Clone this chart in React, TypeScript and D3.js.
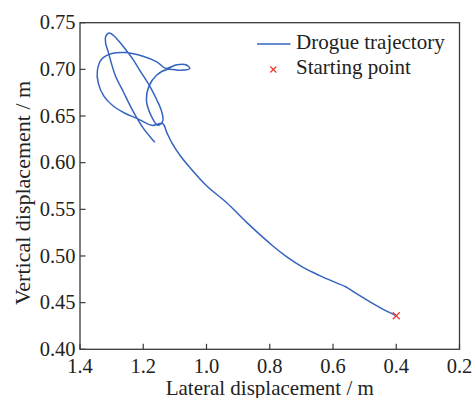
import React from "react";
import * as d3 from "d3";

const xTicks = [1.4, 1.2, 1.0, 0.8, 0.6, 0.4, 0.2];
const yTicks = [0.4, 0.45, 0.5, 0.55, 0.6, 0.65, 0.7, 0.75];

// Trajectory, in time order, starting at the starting point
const trajX = [
  0.4, 0.443, 0.484, 0.532, 0.56, 0.595, 0.642, 0.696, 0.746, 0.791, 0.873, 0.936, 0.999, 1.053, 1.084, 1.109, 1.125, 1.139,
  1.173, 1.217, 1.258, 1.296, 1.324, 1.342, 1.345, 1.331, 1.299, 1.255, 1.201, 1.157, 1.128,
  1.094, 1.065, 1.053, 1.081, 1.122,
  1.157, 1.182, 1.19, 1.176, 1.154, 1.138, 1.143, 1.158, 1.176,
  1.211, 1.233, 1.253, 1.274, 1.293, 1.308, 1.319, 1.319, 1.311, 1.289, 1.263, 1.232, 1.2, 1.174, 1.163,
];
const trajY = [
  0.436, 0.443, 0.451, 0.461, 0.467, 0.472, 0.479, 0.488, 0.499, 0.511, 0.536, 0.557, 0.575, 0.595, 0.608, 0.621, 0.632, 0.642,
  0.64, 0.647, 0.653, 0.661, 0.671, 0.685, 0.699, 0.711, 0.717, 0.718, 0.714, 0.708, 0.701,
  0.705, 0.705, 0.701, 0.699, 0.7,
  0.694, 0.682, 0.667, 0.651, 0.64, 0.645, 0.656, 0.668, 0.68,
  0.699, 0.711, 0.72, 0.729, 0.736, 0.739, 0.735, 0.728, 0.719, 0.694, 0.676, 0.655, 0.637, 0.626, 0.622,
];
const startX = [0.4];
const startY = [0.436];

const legendLabels = ["Drogue trajectory", "Starting point"];

const W = 474;
const H = 398;
const M = { left: 80, right: 14.5, top: 22.7, bottom: 48.7 };
const FONT = "'Liberation Serif', 'Times New Roman', serif";
const LINE_COLOR = "#3563c0";
const MARK_COLOR = "#ee3b2e";
const AXIS_COLOR = "#3a3a3a";

export default function App() {
  const x = d3.scaleLinear().domain([1.4, 0.2]).range([M.left, W - M.right]);
  const y = d3.scaleLinear().domain([0.4, 0.75]).range([H - M.bottom, M.top]);
  const pts: [number, number][] = trajX.map((v, i) => [v, trajY[i]]);
  const line = d3
    .line<[number, number]>()
    .x((d) => x(d[0]))
    .y((d) => y(d[1]))
    .curve(d3.curveCatmullRom.alpha(0.5));
  const x0 = x(1.4), x1 = x(0.2), y0 = y(0.4), y1 = y(0.75);
  const tick = 5.5;
  const cross = (cx: number, cy: number, r: number, key: string) => (
    <g key={key} stroke={MARK_COLOR} strokeWidth={1.2}>
      <line x1={cx - r} y1={cy - r} x2={cx + r} y2={cy + r} />
      <line x1={cx - r} y1={cy + r} x2={cx + r} y2={cy - r} />
    </g>
  );
  return (
    <svg width={W} height={H} style={{ position: "absolute", left: 0, top: 0, background: "#fff" }} fontFamily={FONT}>
      <rect x={0} y={0} width={W} height={H} fill="#fff" />
      <path d={line(pts) || ""} fill="none" stroke={LINE_COLOR} strokeWidth={1.5} strokeLinejoin="round" />
      {startX.map((v, i) => cross(x(v), y(startY[i]), 3.5, "s" + i))}
      <rect x={x0} y={y1} width={x1 - x0} height={y0 - y1} fill="none" stroke={AXIS_COLOR} strokeWidth={1.3} />
      {xTicks.map((t) => (
        <g key={"xt" + t}>
          <line x1={x(t)} x2={x(t)} y1={y0} y2={y0 - tick} stroke={AXIS_COLOR} strokeWidth={1.2} />
          <text x={x(t)} y={373} textAnchor="middle" fontSize={20.5} fill="#222">
            {t.toFixed(1)}
          </text>
        </g>
      ))}
      {yTicks.map((t) => (
        <g key={"yt" + t}>
          <line x1={x0} x2={x0 + tick} y1={y(t)} y2={y(t)} stroke={AXIS_COLOR} strokeWidth={1.2} />
          <text x={75.5} y={y(t)} dy="0.33em" textAnchor="end" fontSize={20.5} fill="#222">
            {t.toFixed(2)}
          </text>
        </g>
      ))}
      <text x={(x0 + x1) / 2} y={394.5} textAnchor="middle" fontSize={21} fill="#222">
        Lateral displacement / m
      </text>
      <text transform={`translate(29.5, ${(y0 + y1) / 2 + 7}) rotate(-90)`} textAnchor="middle" fontSize={22} fill="#222">
        Vertical displacement / m
      </text>
      <line x1={257} x2={290.5} y1={44} y2={44} stroke={LINE_COLOR} strokeWidth={1.5} />
      <text x={296} y={49} fontSize={21} fill="#222">{legendLabels[0]}</text>
      {cross(273.3, 69.5, 3, "leg")}
      <text x={296} y={73.5} fontSize={21} fill="#222">{legendLabels[1]}</text>
    </svg>
  );
}
